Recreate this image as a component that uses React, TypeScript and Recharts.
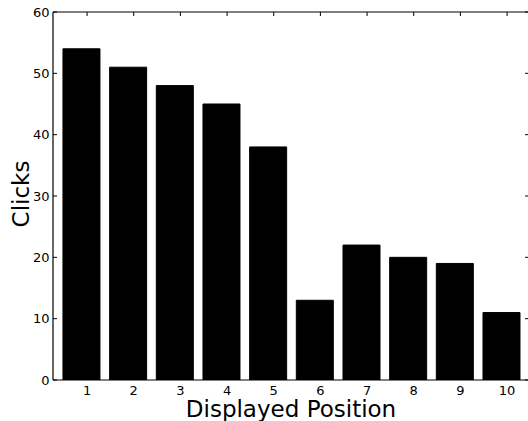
import { BarChart, Bar, XAxis, YAxis } from "recharts";

const positions = [1, 2, 3, 4, 5, 6, 7, 8, 9, 10];
const clicks = [54, 51, 48, 45, 38, 13, 22, 20, 19, 11];
const xTicks = [1, 2, 3, 4, 5, 6, 7, 8, 9, 10];
const yTicks = [0, 10, 20, 30, 40, 50, 60];

const data = positions.map((pos, i) => ({ pos, clicks: clicks[i] }));

const FONT = "'DejaVu Sans', sans-serif";
const X_DOMAIN: [number, number] = [0.27, 10.47];
const TICK_LEN = 4;

// matplotlib style: ticks point into the plot, labels sit outside
const BottomTick = (props: any) => {
  const { x, y, payload } = props;
  return (
    <g>
      <line x1={x} y1={y} x2={x} y2={y - TICK_LEN} stroke="#000" strokeWidth={1} />
      <text x={x} y={y + 14.5} textAnchor="middle" fontSize={13} fill="#000" fontFamily={FONT}>
        {payload.value}
      </text>
    </g>
  );
};

const TopTick = (props: any) => {
  const { x, y } = props;
  return <line x1={x} y1={y} x2={x} y2={y + TICK_LEN} stroke="#000" strokeWidth={1} />;
};

const LeftTick = (props: any) => {
  const { x, y, payload } = props;
  return (
    <g>
      <line x1={x} y1={y} x2={x + TICK_LEN} y2={y} stroke="#000" strokeWidth={1} />
      <text x={x - 3.5} y={y + 4.5} textAnchor="end" fontSize={13} fill="#000" fontFamily={FONT}>
        {payload.value}
      </text>
    </g>
  );
};

const RightTick = (props: any) => {
  const { x, y } = props;
  return <line x1={x} y1={y} x2={x - TICK_LEN} y2={y} stroke="#000" strokeWidth={1} />;
};

const ClicksLabel = (props: any) => {
  const vb = props.viewBox ?? { x: 0, y: 12, width: 53, height: 368 };
  const cx = vb.x + 28.5;
  const cy = vb.y + vb.height / 2 - 2;
  return (
    <text
      x={cx}
      y={cy}
      transform={`rotate(-90 ${cx} ${cy})`}
      textAnchor="middle"
      fontSize={23}
      fill="#000"
      fontFamily={FONT}
    >
      Clicks
    </text>
  );
};

export default function App() {
  return (
    <div
      style={{
        position: "absolute",
        left: 0,
        top: 0,
        width: 528,
        height: 421,
        overflow: "hidden",
        background: "#fff",
      }}
    >
      <BarChart
        width={530}
        height={421}
        data={data}
        margin={{ top: 11, right: 0, bottom: 0, left: 0 }}
        barCategoryGap="10%"
        style={{ fontFamily: FONT }}
      >
        <XAxis xAxisId="bars" dataKey="pos" hide height={0} padding={{ left: 5.3, right: 4 }} />
        <XAxis
          xAxisId="bottom"
          dataKey="pos"
          type="number"
          domain={X_DOMAIN}
          allowDataOverflow
          ticks={xTicks}
          interval={0}
          height={41}
          tickSize={0}
          tickMargin={0}
          tickLine={false}
          axisLine={{ stroke: "#000", strokeWidth: 1.2 }}
          tick={BottomTick}
          label={{
            value: "Displayed Position",
            position: "insideBottom",
            offset: 4.5,
            fontSize: 23,
            fill: "#000",
            fontFamily: FONT,
          }}
        />
        <XAxis
          xAxisId="top"
          orientation="top"
          dataKey="pos"
          type="number"
          domain={X_DOMAIN}
          allowDataOverflow
          ticks={xTicks}
          interval={0}
          height={1}
          tickSize={0}
          tickMargin={0}
          tickLine={false}
          axisLine={{ stroke: "#000", strokeWidth: 1.2 }}
          tick={TopTick}
        />
        <YAxis
          yAxisId="left"
          type="number"
          domain={[0, 60]}
          allowDataOverflow
          ticks={yTicks}
          interval={0}
          width={53}
          tickSize={0}
          tickMargin={0}
          tickLine={false}
          axisLine={{ stroke: "#000", strokeWidth: 1.2 }}
          tick={LeftTick}
          label={<ClicksLabel />}
        />
        <YAxis
          yAxisId="right"
          orientation="right"
          type="number"
          domain={[0, 60]}
          allowDataOverflow
          ticks={yTicks}
          interval={0}
          width={1}
          tickSize={0}
          tickMargin={0}
          tickLine={false}
          axisLine={{ stroke: "#000", strokeWidth: 1.2 }}
          tick={RightTick}
        />
        <Bar
          xAxisId="bars"
          yAxisId="left"
          dataKey="clicks"
          fill="#000"
          stroke="#000"
          strokeWidth={1}
          isAnimationActive={false}
        />
      </BarChart>
    </div>
  );
}
